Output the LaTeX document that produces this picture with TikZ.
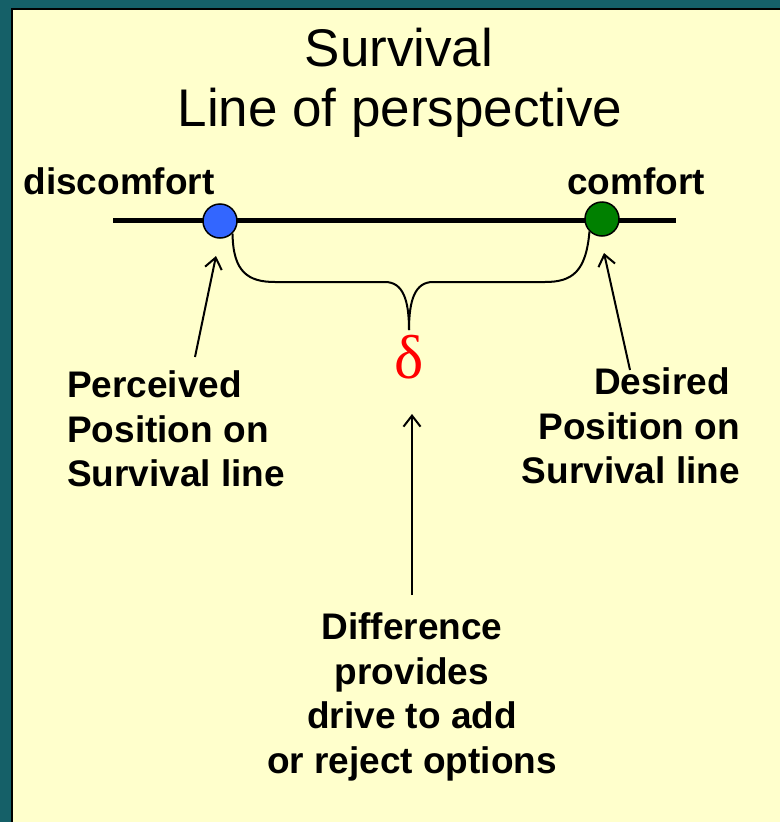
\documentclass[tikz,border=0pt]{standalone}
\usepackage{fontspec}
\setmainfont{Liberation Sans}
\newfontfamily\deltafont{Liberation Serif}
\usetikzlibrary{arrows.meta}
\definecolor{frameteal}{RGB}{21,96,104}
\definecolor{bgyellow}{RGB}{255,255,204}
\definecolor{dotblue}{RGB}{51,102,255}
\definecolor{dotgreen}{RGB}{0,128,0}
\tikzset{
  title/.style={font=\fontsize{53}{60}\selectfont, inner sep=0pt},
  lbl/.style={font=\fontsize{37}{44.6}\selectfont\bfseries, inner sep=0pt},
  dot/.style={circle, draw=black, line width=1.5pt, minimum size=34pt, inner sep=0pt},
  arr/.style={line width=2pt, -{Straight Barb[length=11pt,width=17pt,line width=2pt]}},
  brace/.style={line width=2pt}
}
\begin{document}
\begin{tikzpicture}[x=1pt,y=-1pt]
\useasboundingbox (0,0) rectangle (780,822);
\fill[bgyellow] (0,0) rectangle (780,822);
\fill[frameteal] (0,0) rectangle (780,8);
\fill[frameteal] (0,0) rectangle (11,822);
\fill[black] (11,8) rectangle (780,10);
\fill[black] (11,8) rectangle (13,822);

\node[title] (t1) at (399,48) {Survival};
\node[title] (t2) at (400,113) {Line of perspective};

\node[lbl] (disc) at (119,181) {discomfort};
\node[lbl] (comf) at (636,181) {comfort};

\coordinate (L) at (113,220);
\coordinate (R) at (676,220);
\draw[line width=5pt] (L) -- (R);

\node[dot, fill=dotblue] (pc) at (220,221) {};
\node[dot, fill=dotgreen] (gc) at (602,219) {};

\coordinate (tip) at (409,330);
\draw[brace] (pc.-45) .. controls (233,272) and (248,282) .. (275,282)
  -- (385,282) .. controls (403,282) and (409,300) .. (tip);
\draw[brace] (gc.-135) .. controls (586,272) and (572,282) .. (545,282)
  -- (433,282) .. controls (415,282) and (409,300) .. (tip);

\node[inner sep=0pt, text=red, font=\deltafont\fontsize{62}{70}\selectfont] (delta) at (409,357) {δ};

\node[lbl, align=left, anchor=west] (perc) at (67,429) {Perceived\\Position on\\Survival line};
\node[lbl, align=right, anchor=east] (des) at (740,426) {Desired\kern10pt\\Position on\\Survival line};
\node[lbl, align=center] (diff) at (412,697) {Difference\\provides\\drive to add\\or reject options};

\coordinate (pa) at (195,357);
\coordinate (pt) at (216,256);
\draw[arr] (pa) -- (pt);
\coordinate (da) at (630,370);
\coordinate (dt) at (604,253);
\draw[arr] (da) -- (dt);
\coordinate (fa) at (412,595);
\coordinate (ft) at (412,414);
\draw[arr] (fa) -- (ft);
\end{tikzpicture}
\end{document}
